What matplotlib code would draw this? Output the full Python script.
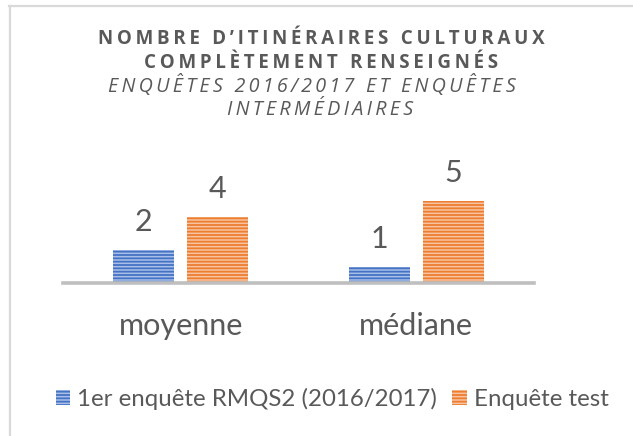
import numpy as np
import matplotlib
matplotlib.use("Agg")
import matplotlib.pyplot as plt
from matplotlib.patches import Rectangle
from matplotlib.lines import Line2D

# data
categories = ["moyenne", "médiane"]
series_names = ["1er enquête RMQS2 (2016/2017)", "Enquête test"]
first_survey = [2, 1]
test_survey = [4, 5]

title_lines = ["NOMBRE D’ITINÉRAIRES CULTURAUX", "COMPLÈTEMENT RENSEIGNÉS"]
subtitle_lines = ["ENQUÊTES 2016/2017 ET ENQUÊTES", "INTERMÉDIAIRES"]

GREY = "#595959"
BLUE, BLUE_LIGHT = "#4472C4", "#a9bfe8"
ORANGE, ORANGE_LIGHT = "#ED7D31", "#f8c3a0"

plt.rcParams["font.family"] = ["Lato", "DejaVu Sans"]
plt.rcParams["hatch.linewidth"] = 1.3

W, H = 633, 436
fig = plt.figure(figsize=(W / 100, H / 100), dpi=100)


def px(x, y):
    # pixel position (from top left) -> figure fraction
    return x / W, 1 - y / H


def spaced(s):
    # mimic the letter spacing of the original title
    return "\u2009".join(s)


# chart frame (only top and left borders are visible in the reference)
fig.add_artist(Line2D([px(9, 0)[0], 1], [px(0, 6.5)[1]] * 2, color="#d9d9d9", lw=1.6))
fig.add_artist(Line2D([px(9.5, 0)[0]] * 2, [0, px(0, 6)[1]], color="#d9d9d9", lw=1.6))

# title
tfont = ["Open Sans", "DejaVu Sans"]
for line, y in zip(title_lines, [44, 68]):
    fig.text(px(321, 0)[0], px(0, y)[1], spaced(line), ha="center", va="baseline",
             fontsize=13.5, fontweight="bold", color=GREY, family=tfont)
for line, y, xc in zip(subtitle_lines, [92, 115], [312, 320]):
    fig.text(px(xc, 0)[0], px(0, y)[1], spaced(line), ha="center", va="baseline",
             fontsize=14.2, fontstyle="italic", color=GREY, family=tfont)

unit = 16.4  # pixels per unit
ymax = 6.3
ax = fig.add_axes([63 / W, 1 - 283 / H, 471 / W, ymax * unit / H])

x = np.arange(len(categories))
width = 0.26
off = 0.157
b1 = ax.bar(x - off, first_survey, width, color=BLUE_LIGHT, edgecolor=BLUE,
            hatch="-----", linewidth=0, zorder=2)
b2 = ax.bar(x + off, test_survey, width, color=ORANGE_LIGHT, edgecolor=ORANGE,
            hatch="-----", linewidth=0, zorder=2)

for bars in (b1, b2):
    for rect in bars:
        ax.annotate(f"{rect.get_height():.0f}",
                    (rect.get_x() + rect.get_width() / 2, rect.get_height()),
                    xytext=(0, 13.7), textcoords="offset points",
                    ha="center", va="baseline", fontsize=22, color=GREY)

ax.set_xlim(-0.5, 1.5)
ax.set_ylim(0, ymax)
ax.set_xticks(x, categories)
ax.tick_params(axis="x", length=0, pad=21, labelsize=22, labelcolor=GREY)
ax.set_yticks([])
for s in ("top", "right", "left"):
    ax.spines[s].set_visible(False)
ax.spines["bottom"].set_color("#bfbfbf")
ax.spines["bottom"].set_linewidth(2.6)
ax.spines["bottom"].set_zorder(3)
ax.patch.set_visible(False)

handles = [Rectangle((0, 0), 1, 1, facecolor=BLUE_LIGHT, edgecolor=BLUE, hatch="-----", lw=0),
           Rectangle((0, 0), 1, 1, facecolor=ORANGE_LIGHT, edgecolor=ORANGE, hatch="-----", lw=0)]
leg = fig.legend(handles, series_names, loc="center", bbox_to_anchor=px(332, 399),
                 ncol=2, frameon=False, fontsize=17.3, handlelength=0.62, handleheight=0.62,
                 handletextpad=0.28, columnspacing=0.62, borderpad=0, borderaxespad=0)
for t in leg.get_texts():
    t.set_color(GREY)

fig.savefig("out.png", dpi=100)
